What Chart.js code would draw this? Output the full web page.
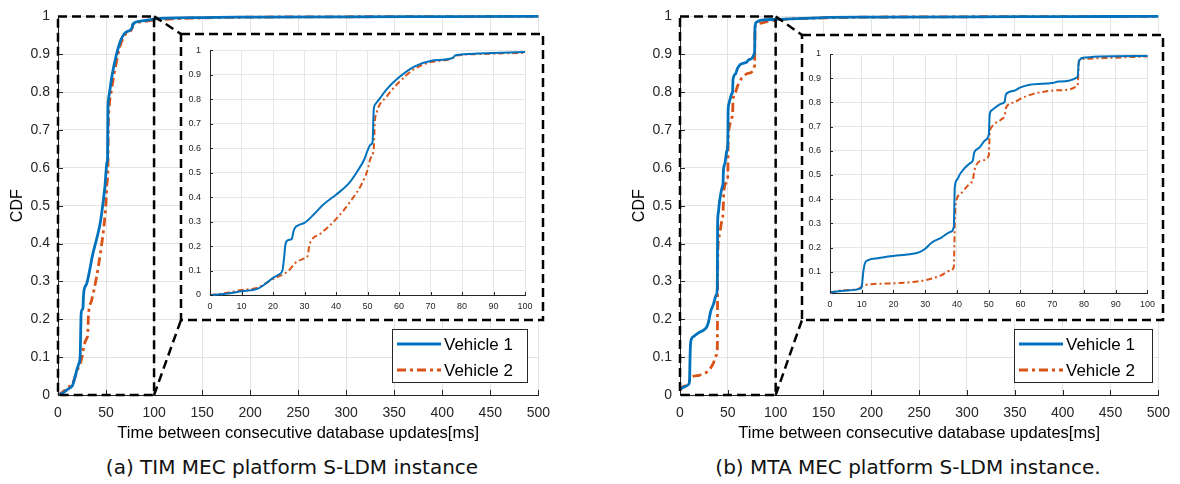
<!DOCTYPE html>
<html><head><meta charset="utf-8">
<script src="https://cdn.jsdelivr.net/npm/chart.js@4"></script>
<style>
html,body{margin:0;padding:0;background:#fff;width:1180px;height:484px;overflow:hidden}
canvas{position:absolute}
.cap{position:absolute;top:455px;font-family:"DejaVu Sans",sans-serif;font-size:20px;color:#111;white-space:nowrap;transform:translateX(-50%);line-height:24px}
</style></head><body>
<canvas id="mainA" width="560" height="450" style="left:0px;top:0px"></canvas>
<canvas id="insetA" width="358" height="282" style="left:183px;top:36px"></canvas>
<canvas id="mainB" width="560" height="450" style="left:620px;top:0px"></canvas>
<canvas id="insetB" width="357" height="281" style="left:804px;top:37px"></canvas>
<div class="cap" style="left:292px">(a) TIM MEC platform S-LDM instance</div>
<div class="cap" style="left:908px">(b) MTA MEC platform S-LDM instance.</div>
<script>
const FONT='"Liberation Sans", Arial, sans-serif';
const BLUE='#0072BD', ORANGE='#D95319';
const seriesNames=['Vehicle 1','Vehicle 2'];
const xTitle='Time between consecutive database updates[ms]';
const yTitle='CDF';
const mainXTicks=[0,50,100,150,200,250,300,350,400,450,500];
const cdfTicks=[0,0.1,0.2,0.3,0.4,0.5,0.6,0.7,0.8,0.9,1];
const insetXTicks=[0,10,20,30,40,50,60,70,80,90,100];
const insetYTicksB=[0.1,0.2,0.3,0.4,0.5,0.6,0.7,0.8,0.9,1];

// (a) TIM - Vehicle 1 / Vehicle 2 (0..100 ms)
const timV1X=[0,5,10,15,17,20,22,23,23.5,24,25,26,26.5,27,28,30,33,36,40,44,47,49,50,51,51.6,52,52.5,54,56,60,65,70,77,78,85,100];
const timV1Y=[0,0.005,0.015,0.025,0.04,0.07,0.085,0.1,0.15,0.21,0.225,0.23,0.26,0.275,0.285,0.295,0.33,0.37,0.41,0.455,0.51,0.555,0.59,0.615,0.625,0.76,0.78,0.805,0.84,0.89,0.935,0.957,0.969,0.98,0.987,0.993];
const timV2X=[0,5,10,15,20,25,27,30,31,31.5,32,35,40,45,48,50,51,52,52.3,53,56,60,65,70,77,78,85,100];
const timV2Y=[0,0.008,0.02,0.03,0.065,0.1,0.13,0.15,0.16,0.2,0.22,0.25,0.31,0.39,0.45,0.51,0.56,0.6,0.7,0.75,0.81,0.87,0.925,0.952,0.968,0.978,0.985,0.99];
// (b) MTA - Vehicle 1 / Vehicle 2 (0..100 ms)
const mtaV1X=[0,5,9.5,10,10.5,11,12,15,20,25,28,30,32,35,38,39,39.3,40,41,44,45,45.4,47,49,50,50.3,51,54,55,55.4,58,60,63,70,72,78,78.4,80,85,100];
const mtaV1Y=[0.015,0.022,0.03,0.04,0.1,0.135,0.148,0.156,0.165,0.172,0.18,0.195,0.22,0.24,0.265,0.285,0.45,0.48,0.505,0.548,0.56,0.592,0.612,0.645,0.665,0.75,0.768,0.795,0.802,0.833,0.848,0.862,0.873,0.88,0.886,0.905,0.972,0.985,0.99,0.992];
const mtaV2X=[0,2,9,11,20,30,35,38,39,39.3,39.6,41,44,45,45.5,48,50,50.3,51,54,55,55.5,58,60,64,72,78,78.4,80,100];
const mtaV2Y=[0.012,0.02,0.03,0.045,0.052,0.065,0.085,0.105,0.12,0.3,0.38,0.42,0.465,0.48,0.52,0.56,0.58,0.67,0.7,0.73,0.745,0.78,0.8,0.815,0.835,0.85,0.87,0.97,0.98,0.99];
// tails (100..500 ms), main plots only
const tailX=[150,200,300,400,500];
const timTailV1=[0.997,0.998,0.999,0.9995,1];
const timTailV2=[0.996,0.998,0.999,0.9995,1];
const mtaTailV1=[0.997,0.998,0.999,0.9995,1];
const mtaTailV2=[0.996,0.998,0.999,0.9995,1];

function pts(xs,ys){return xs.map((x,i)=>({x:x,y:ys[i]}));}
function fmt(v){return String(+(+v).toFixed(3));}

function ds(label,data,color,dash,w){
  return {label:label,data:data,borderColor:color,backgroundColor:color,borderWidth:w,borderDash:dash,
    pointRadius:0,fill:false,cubicInterpolationMode:'monotone',clip:4};
}

function mainDeco(o){
  return {id:'deco'+o.id, afterDatasetsDraw(chart){
    const c=chart.ctx, xs=chart.scales.x, ys=chart.scales.y, a=chart.chartArea;
    c.save();
    c.strokeStyle='#262626'; c.lineWidth=1; c.setLineDash([]);
    mainXTicks.forEach(v=>{const px=Math.round(xs.getPixelForValue(v))+0.5;c.beginPath();c.moveTo(px,a.bottom);c.lineTo(px,a.bottom-5);c.stroke();});
    cdfTicks.forEach(v=>{const py=Math.round(ys.getPixelForValue(v))+0.5;c.beginPath();c.moveTo(a.left,py);c.lineTo(a.left+5,py);c.stroke();});
    const x0=xs.getPixelForValue(0), x1=xs.getPixelForValue(100), y0=ys.getPixelForValue(0), y1=ys.getPixelForValue(1);
    const r=o.frame;
    c.fillStyle='#fff'; c.fillRect(r.l,r.t,r.r-r.l,r.b-r.t);
    c.strokeStyle='#000'; c.lineWidth=2.5; c.setLineDash([9,5]);
    c.strokeRect(x0,y1,x1-x0,y0-y1);
    c.strokeRect(r.l,r.t,r.r-r.l,r.b-r.t);
    c.beginPath(); c.moveTo(x1,y1); c.lineTo(r.l,r.t); c.stroke();
    c.beginPath(); c.moveTo(x1,y0); c.lineTo(r.l,r.b); c.stroke();
    // legend
    const L=o.legend;
    c.setLineDash([]); c.fillStyle='#fff'; c.fillRect(L.l,L.t,L.r-L.l,L.b-L.t);
    c.strokeStyle='#262626'; c.lineWidth=1; c.strokeRect(L.l+0.5,L.t+0.5,L.r-L.l,L.b-L.t);
    const dsets=chart.data.datasets;
    dsets.forEach((d,i)=>{
      const yy=L.t+15+i*26;
      c.strokeStyle=d.borderColor; c.lineWidth=d.borderWidth; c.setLineDash(d.borderDash||[]);
      c.beginPath(); c.moveTo(L.l+5,yy); c.lineTo(L.l+49,yy); c.stroke();
      c.setLineDash([]);
      c.fillStyle='#000'; c.font='17px '+FONT; c.textBaseline='middle'; c.textAlign='left';
      c.fillText(d.label,L.l+52,yy+1);
    });
    c.restore();
  }};
}

function insetDeco(o){
  return {id:'ideco'+o.id,
    beforeDraw(chart){const c=chart.ctx;c.save();c.fillStyle='#fff';c.fillRect(0,0,chart.width,chart.height);c.restore();},
    afterDatasetsDraw(chart){
      const c=chart.ctx, xs=chart.scales.x, ys=chart.scales.y, a=chart.chartArea;
      c.save(); c.strokeStyle='#262626'; c.lineWidth=1; c.setLineDash([]);
      insetXTicks.forEach(v=>{const px=Math.round(xs.getPixelForValue(v))+0.5;c.beginPath();c.moveTo(px,a.bottom);c.lineTo(px,a.bottom-3);c.stroke();});
      o.yticks.forEach(v=>{const py=Math.round(ys.getPixelForValue(v))+0.5;c.beginPath();c.moveTo(a.left,py);c.lineTo(a.left+3,py);c.stroke();});
      c.restore();
    }};
}

function mainChart(id,v1,v2,o){
  return new Chart(document.getElementById(id),{
    type:'line',
    data:{datasets:[ds(seriesNames[0],v1,BLUE,[],2.8),ds(seriesNames[1],v2,ORANGE,[9,4,3,4],2.8)]},
    options:{
      responsive:false,animation:false,events:[],parsing:true,
      layout:{padding:{top:14,right:o.padRight,left:0,bottom:0}},
      plugins:{legend:{display:false},tooltip:{enabled:false}},
      scales:{
        x:{type:'linear',min:0,max:500,
          afterBuildTicks:s=>{s.ticks=mainXTicks.map(v=>({value:v}));},
          afterFit:s=>{s.height=55;},
          ticks:{font:{family:FONT,size:14},color:'#262626',padding:10,maxRotation:0,autoSkip:false,callback:fmt},
          grid:{color:'#e3e3e3',drawTicks:false},
          border:{color:'#262626',width:1},
          title:{display:true,text:xTitle,font:{family:FONT,size:16.5},color:'#000',padding:{top:0,bottom:7}}},
        y:{type:'linear',min:0,max:1,
          afterBuildTicks:s=>{s.ticks=cdfTicks.map(v=>({value:v}));},
          afterFit:s=>{s.width=o.yWidth;},
          ticks:{font:{family:FONT,size:14},color:'#262626',padding:8,autoSkip:false,callback:fmt},
          grid:{color:'#e3e3e3',drawTicks:false},
          border:{color:'#262626',width:1},
          title:{display:true,text:yTitle,font:{family:FONT,size:16},color:'#000',padding:{top:o.yTitlePad,bottom:0}}}
      }
    },
    plugins:[mainDeco(o)]
  });
}

function insetChart(id,v1,v2,o){
  return new Chart(document.getElementById(id),{
    type:'line',
    data:{datasets:[ds(seriesNames[0],v1,BLUE,[],2),ds(seriesNames[1],v2,ORANGE,[6,3,2,3],2)]},
    options:{
      responsive:false,animation:false,events:[],
      layout:{padding:{top:o.padTop,right:o.padRight,left:0,bottom:0}},
      plugins:{legend:{display:false},tooltip:{enabled:false}},
      scales:{
        x:{type:'linear',min:0,max:100,
          afterBuildTicks:s=>{s.ticks=insetXTicks.map(v=>({value:v}));},
          afterFit:s=>{s.height=o.xHeight;},
          ticks:{font:{family:FONT,size:9},color:'#262626',padding:6,maxRotation:0,autoSkip:false,callback:fmt},
          grid:{color:'#e6e6e6',drawTicks:false},
          border:{color:'#262626',width:1}},
        y:{type:'linear',min:o.ymin,max:1,
          afterBuildTicks:s=>{s.ticks=o.yticks.map(v=>({value:v}));},
          afterFit:s=>{s.width=o.yWidth;},
          ticks:{font:{family:FONT,size:9},color:'#262626',padding:9,autoSkip:false,callback:fmt},
          grid:{color:'#e6e6e6',drawTicks:false},
          border:{color:'#262626',width:1}}
      }
    },
    plugins:[insetDeco(o)]
  });
}

mainChart('mainA',pts(timV1X.concat(tailX),timV1Y.concat(timTailV1)),pts(timV2X.concat(tailX),timV2Y.concat(timTailV2)),
  {id:'A',padRight:19,yWidth:58,yTitlePad:8,frame:{l:181,t:34,r:543,b:320},legend:{l:392,t:329,r:527,b:382}});
insetChart('insetA',pts(timV1X,timV1Y),pts(timV2X,timV2Y),
  {id:'A',padTop:10,padRight:16,xHeight:23,yWidth:27,ymin:0,yticks:cdfTicks});
mainChart('mainB',pts(mtaV1X.concat(tailX),mtaV1Y.concat(mtaTailV1)),pts(mtaV2X.concat(tailX),mtaV2Y.concat(mtaTailV2)),
  {id:'B',padRight:20,yWidth:60,yTitlePad:10,frame:{l:182,t:35,r:543,b:320},legend:{l:394,t:329,r:532,b:382}});
insetChart('insetB',pts(mtaV1X,mtaV1Y),pts(mtaV2X,mtaV2Y),
  {id:'B',padTop:17,padRight:13,xHeight:25,yWidth:26,ymin:0.012,yticks:insetYTicksB});
</script>
</body></html>
